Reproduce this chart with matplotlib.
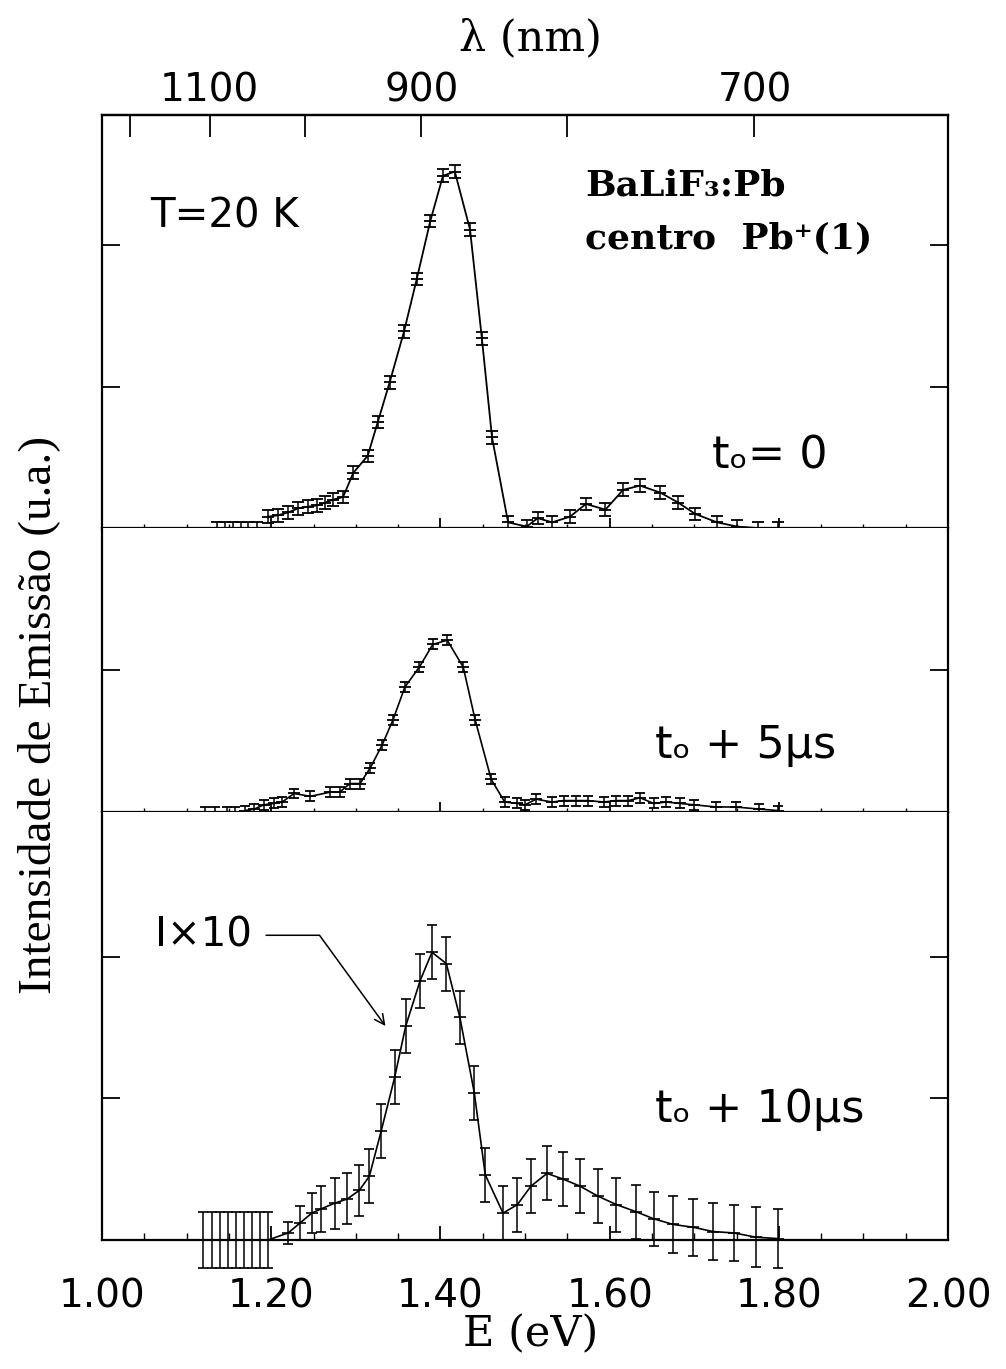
import numpy as np
import matplotlib.pyplot as plt

# emission spectra, BaLiF3:Pb, Pb+(1) centre, T = 20 K
# energies in eV, intensities in arbitrary units (same scale for all panels)

# t0 = 0
e_t0 = [1.136, 1.145, 1.155, 1.164, 1.173, 1.183, 1.196, 1.208, 1.220, 1.232,
        1.243, 1.254, 1.264, 1.273, 1.285, 1.297, 1.314, 1.326, 1.340, 1.357,
        1.372, 1.388, 1.403, 1.417, 1.435, 1.449, 1.461, 1.480, 1.502, 1.515,
        1.532, 1.553, 1.572, 1.595, 1.616, 1.636, 1.660, 1.681, 1.701, 1.727,
        1.751, 1.775, 1.799]
i_t0 = [0.0, 0.0, 0.0, 0.0, 0.0, 0.0, 0.08, 0.09, 0.11, 0.14,
        0.15, 0.16, 0.18, 0.20, 0.22, 0.39, 0.51, 0.75, 1.03, 1.39,
        1.76, 2.17, 2.49, 2.52, 2.11, 1.34, 0.64, 0.04, 0.01, 0.07,
        0.04, 0.08, 0.17, 0.13, 0.27, 0.30, 0.25, 0.18, 0.10, 0.04,
        0.01, 0.0, 0.0]

# t0 + 5 us
e_t5 = [1.122, 1.134, 1.148, 1.157, 1.169, 1.180, 1.191, 1.203, 1.213, 1.227,
        1.246, 1.270, 1.281, 1.293, 1.305, 1.317, 1.331, 1.344, 1.358, 1.375,
        1.391, 1.408, 1.427, 1.441, 1.460, 1.476, 1.491, 1.500, 1.513, 1.532,
        1.546, 1.560, 1.574, 1.593, 1.608, 1.622, 1.636, 1.652, 1.667, 1.683,
        1.700, 1.726, 1.749, 1.777, 1.799]
i_t5 = [0.0, 0.0, 0.0, 0.0, 0.01, 0.02, 0.05, 0.06, 0.07, 0.13,
        0.11, 0.14, 0.14, 0.20, 0.20, 0.31, 0.47, 0.65, 0.88, 1.02,
        1.18, 1.21, 1.02, 0.65, 0.23, 0.07, 0.06, 0.05, 0.09, 0.07,
        0.08, 0.08, 0.08, 0.07, 0.08, 0.08, 0.10, 0.06, 0.07, 0.06,
        0.05, 0.035, 0.035, 0.02, 0.01]

# t0 + 10 us (intensity x10)
e_t10 = [1.119, 1.130, 1.139, 1.149, 1.158, 1.168, 1.177, 1.187, 1.196, 1.220,
         1.234, 1.248, 1.259, 1.275, 1.290, 1.304, 1.316, 1.330, 1.346, 1.359,
         1.376, 1.390, 1.407, 1.423, 1.440, 1.453, 1.474, 1.491, 1.507, 1.526,
         1.545, 1.565, 1.586, 1.608, 1.631, 1.652, 1.675, 1.699, 1.722, 1.747,
         1.773, 1.799]
i_t10 = [0.0, 0.0, 0.0, 0.0, 0.0, 0.0, 0.0, 0.0, 0.0, 0.05,
         0.12, 0.19, 0.22, 0.26, 0.29, 0.35, 0.45, 0.77, 1.15, 1.51,
         1.83, 2.03, 1.95, 1.57, 1.04, 0.46, 0.19, 0.25, 0.38, 0.47,
         0.43, 0.38, 0.31, 0.25, 0.20, 0.15, 0.11, 0.09, 0.06, 0.05,
         0.02, 0.01]
err_t10 = [0.2, 0.2, 0.2, 0.2, 0.2, 0.2, 0.2, 0.2, 0.2, 0.08,
           0.12, 0.14, 0.16, 0.18, 0.18, 0.18, 0.19, 0.19, 0.19, 0.19,
           0.19, 0.19, 0.19, 0.19, 0.19, 0.19, 0.19, 0.19, 0.19, 0.19,
           0.19, 0.19, 0.19, 0.19, 0.19, 0.19, 0.2, 0.2, 0.2, 0.2,
           0.21, 0.21]

lam_major = [1100, 900, 700]
lam_minor = [1200, 1000, 800]
e_major = [1.00, 1.20, 1.40, 1.60, 1.80, 2.00]

HC = 1239.84  # eV nm

sans = ['DejaVu Sans']
serif = ['DejaVu Serif']
times = ['Liberation Serif', 'DejaVu Serif']

fig = plt.figure(figsize=(10.06, 13.69), dpi=100)

# three stacked panels sharing the energy axis
left, width = 0.1014, 0.841
ax_top = fig.add_axes([left, 0.6143, width, 0.3017])
ax_mid = fig.add_axes([left, 0.4069, width, 0.2074])
ax_bot = fig.add_axes([left, 0.0942, width, 0.3127])

ax_top.set_ylim(0, 2.92)
ax_mid.set_ylim(0, 2.0)
ax_bot.set_ylim(0, 3.02)

for ax in (ax_top, ax_mid, ax_bot):
    ax.set_xlim(1.0, 2.0)
    for s in ax.spines.values():
        s.set_linewidth(1.6)
    ax.set_xticks(e_major)
    ax.set_xticks(np.arange(1.05, 2.0, 0.05), minor=True)
    ax.tick_params(axis='y', which='major', direction='in', left=True, right=True,
                   labelleft=False, length=13, width=1.3)
    ax.tick_params(axis='y', which='minor', left=False, right=False)

ax_top.set_yticks([1, 2])
ax_mid.set_yticks([1])
ax_bot.set_yticks([1, 2])

ax_mid.spines['top'].set_visible(False)
ax_bot.spines['top'].set_visible(False)

for ax in (ax_top, ax_mid):
    ax.tick_params(axis='x', which='major', direction='inout', length=14, width=1.3,
                   labelbottom=False, top=False)
    ax.tick_params(axis='x', which='minor', direction='inout', length=6, width=1.0,
                   top=False)

ax_bot.tick_params(axis='x', which='major', direction='in', length=10, width=1.3,
                   pad=27, labelsize=28, top=False)
ax_bot.tick_params(axis='x', which='minor', direction='in', length=5, width=1.0, top=False)
ax_bot.set_xticklabels(['%.2f' % v for v in e_major], family=sans)

# top wavelength axis
sec = ax_top.secondary_xaxis('top', functions=(lambda e: HC / np.clip(e, 1e-3, None),
                                               lambda l: HC / np.clip(l, 1e-3, None)))
sec.set_xticks(lam_major)
sec.set_xticks(lam_minor, minor=True)
sec.set_xticklabels([str(v) for v in lam_major], family=sans)
sec.tick_params(which='major', direction='in', length=16, width=1.3, pad=4, labelsize=28)
sec.tick_params(which='minor', direction='in', length=16, width=1.3)
sec.spines['top'].set_linewidth(1.6)

# spectra
ax_top.plot(e_t0[6:], i_t0[6:], color='black', lw=1.3, clip_on=False)
ax_top.errorbar(e_t0, i_t0, yerr=0.045, fmt='_', color='black', ms=9, mew=1.3,
                elinewidth=1.1, capsize=4, capthick=1.1, clip_on=False)

ax_mid.plot(e_t5[4:], i_t5[4:], color='black', lw=1.2, clip_on=False)
ax_mid.errorbar(e_t5, i_t5, yerr=0.035, fmt='_', color='black', ms=8, mew=1.3,
                elinewidth=1.1, capsize=3.5, capthick=1.1, clip_on=False)

ax_bot.plot(e_t10[8:], i_t10[8:], color='black', lw=1.2, clip_on=False)
ax_bot.errorbar(e_t10, i_t10, yerr=err_t10, fmt='_', color='black', ms=8, mew=1.2,
                elinewidth=1.1, capsize=3.5, capthick=1.1, clip_on=False)

# annotations
ax_top.text(1.057, 2.20, 'T=20 K', family=sans, fontsize=29, ha='left', va='center')
ax_top.text(1.571, 2.42, 'BaLiF\u2083:Pb', family=serif, fontsize=26, fontweight='bold',
            ha='left', va='center')
ax_top.text(1.571, 2.05, 'centro  Pb\u207a(1)', family=serif, fontsize=26, fontweight='bold',
            ha='left', va='center')
ax_top.text(1.721, 0.51, 't\u2092= 0', family=sans, fontsize=32, ha='left', va='center')
ax_mid.text(1.654, 0.47, 't\u2092 + 5\u00b5s', family=sans, fontsize=32, ha='left', va='center')
ax_bot.text(1.654, 0.92, 't\u2092 + 10\u00b5s', family=sans, fontsize=32, ha='left', va='center')

ax_bot.annotate('I\u00d710', xy=(1.335, 1.51), xytext=(1.063, 2.15),
                family=sans, fontsize=29, ha='left', va='center',
                arrowprops=dict(arrowstyle='->', color='black', lw=1.1,
                                connectionstyle='angle,angleA=0,angleB=126,rad=0',
                                shrinkA=8, shrinkB=0, mutation_scale=18))

fig.text(0.527, 0.972, '\u03bb (nm)', family=serif, fontsize=31,
         ha='center', va='center')
fig.text(0.527, 0.025, 'E (eV)', family=serif, fontsize=31,
         ha='center', va='center')
fig.text(0.038, 0.478, 'Intensidade de Emiss\u00e3o (u.a.)', family=times, fontsize=34,
         rotation=90, ha='center', va='center')

fig.savefig('out.png', dpi=100)
